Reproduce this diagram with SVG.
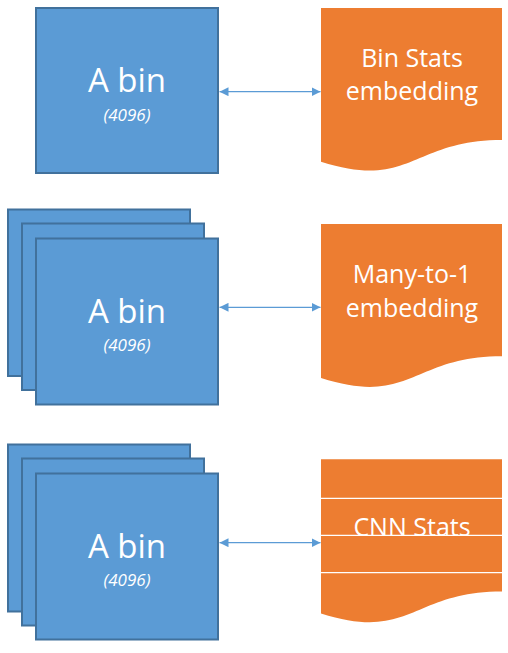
<svg xmlns="http://www.w3.org/2000/svg" width="508" height="653" viewBox="0 0 508 653">
<defs>
<style>
.bin{fill:#5B9BD5;stroke:#41719C;stroke-width:2}
.doc{fill:#ED7D31}
.sep{stroke:#FFFFFF;stroke-width:1.2}
.t{font-family:"Open Sans","Liberation Sans",sans-serif;fill:#FFFFFF;text-anchor:middle}
.big{font-size:33px}
.sub{font-size:17px;font-style:italic}
.lbl{font-size:25px}
.conn{stroke:#5B9BD5;stroke-width:1.2;fill:none;marker-start:url(#ah);marker-end:url(#ah)}
</style>
<marker id="ah" viewBox="0 0 10 10" refX="10" refY="5" markerWidth="9" markerHeight="9" markerUnits="userSpaceOnUse" orient="auto-start-reverse">
<path d="M0,0 L10,5 L0,10 Z" fill="#5B9BD5"/>
</marker>
</defs>

<g id="bin1">
<rect class="bin" x="36" y="8" width="182" height="165"/>
<text class="t big" x="127" y="92">A bin</text>
<text class="t sub" x="127" y="121">(4096)</text>
</g>
<g id="doc1">
<path class="doc" d="M321,8 H502 V140 C411.5,140 411.5,190.3 321,161.7 Z"/>
<text class="t lbl" x="412" y="67">Bin Stats</text>
<text class="t lbl" x="412" y="100">embedding</text>
</g>

<g id="bin2">
<rect class="bin" x="8" y="209.5" width="182" height="166.5"/>
<rect class="bin" x="22" y="223.5" width="182" height="166.5"/>
<rect class="bin" x="36" y="238.5" width="182" height="166"/>
<text class="t big" x="127" y="323">A bin</text>
<text class="t sub" x="127" y="351">(4096)</text>
</g>
<g id="doc2">
<path class="doc" d="M321,224 H502 V356.3 C411.5,356.3 411.5,406.8 321,378.1 Z"/>
<text class="t lbl" x="412" y="283">Many-to-1</text>
<text class="t lbl" x="412" y="317">embedding</text>
</g>

<g id="bin3">
<rect class="bin" x="8" y="444.5" width="182" height="167"/>
<rect class="bin" x="22" y="458.5" width="182" height="167"/>
<rect class="bin" x="36" y="473.5" width="182" height="166"/>
<text class="t big" x="127" y="558">A bin</text>
<text class="t sub" x="127" y="586">(4096)</text>
</g>
<g id="doc3">
<path class="doc" d="M321,459.3 H502 V591.6 C411.5,591.6 411.5,642 321,613.4 Z"/>
<text class="t lbl" x="412" y="536">CNN Stats</text>
<line class="sep" x1="321" y1="498.3" x2="503" y2="498.3"/>
<line class="sep" x1="321" y1="535.3" x2="503" y2="535.3"/>
<line class="sep" x1="321" y1="572.7" x2="503" y2="572.7"/>
</g>

<g id="connectors">
<line class="conn" x1="219.5" y1="91.7" x2="320.5" y2="91.7"/>
<line class="conn" x1="219.5" y1="307.3" x2="320.5" y2="307.3"/>
<line class="conn" x1="219.5" y1="542.7" x2="320.5" y2="542.7"/>
</g>
</svg>
